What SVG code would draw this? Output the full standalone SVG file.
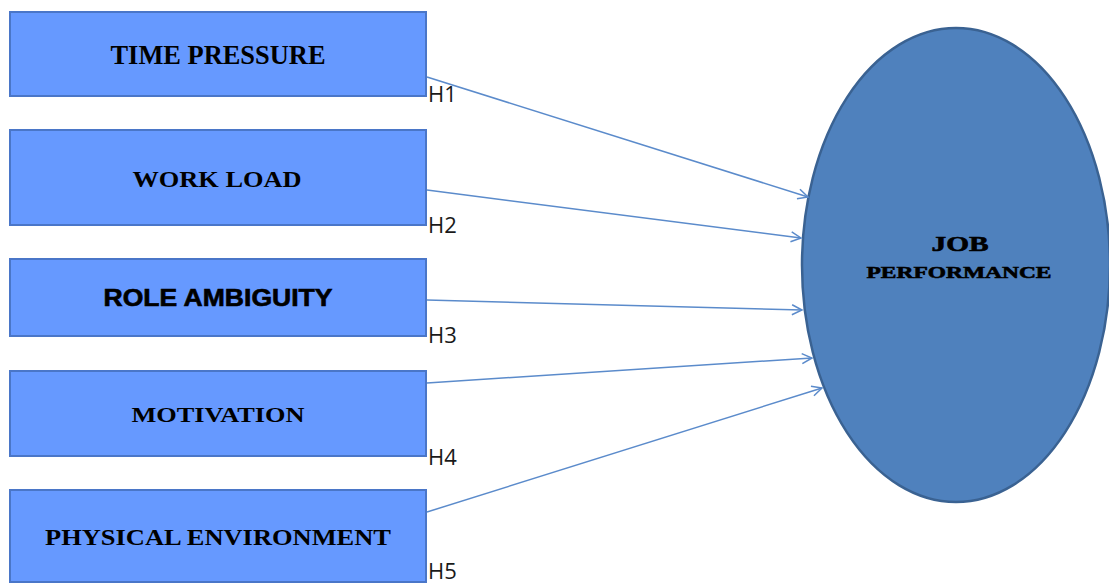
<svg xmlns="http://www.w3.org/2000/svg" width="1109" height="586" viewBox="0 0 1109 586">
<style>
.box{fill:#6699FF;stroke:#4A76C8;stroke-width:2}
.tr{font-family:"Liberation Serif",serif;font-weight:bold;fill:#000;text-anchor:middle}
.sa{font-family:"Liberation Sans",sans-serif;font-weight:bold;fill:#000;text-anchor:middle;stroke:#000;stroke-width:0.6}
.h{font-family:"Open Sans","Liberation Sans",sans-serif;font-size:22px;fill:#1a1a1a}
.con{stroke:#5B8BCB;stroke-width:1.5;fill:none;marker-end:url(#ah)}
</style>
<defs>
<marker id="ah" markerWidth="14" markerHeight="14" refX="12" refY="7" orient="auto" markerUnits="userSpaceOnUse">
<path d="M2,2 L12,7 L2,12" fill="none" stroke="#5B8BCB" stroke-width="1.5"/>
</marker>
</defs>
<rect width="1109" height="586" fill="#fff"/>
<g id="jp">
<ellipse cx="956" cy="265" rx="154" ry="237" fill="#4F81BD" stroke="#3A6292" stroke-width="2.5"/>
<text class="tr" x="960" y="251" font-size="21" textLength="57" lengthAdjust="spacingAndGlyphs" stroke="#000" stroke-width="0.6">JOB</text>
<text class="tr" x="959" y="278" font-size="17" textLength="185" lengthAdjust="spacingAndGlyphs" stroke="#000" stroke-width="0.6">PERFORMANCE</text>
</g>
<g id="tp">
<rect class="box" x="10" y="12" width="416" height="84"/>
<text class="tr" x="218" y="64" font-size="27" textLength="215" lengthAdjust="spacingAndGlyphs">TIME PRESSURE</text>
</g>
<g id="wl">
<rect class="box" x="10" y="130" width="416" height="95"/>
<text class="tr" x="217" y="187" font-size="24" textLength="169" lengthAdjust="spacingAndGlyphs">WORK LOAD</text>
</g>
<g id="ra">
<rect class="box" x="10" y="259" width="416" height="77"/>
<text class="sa" x="218" y="306" font-size="23" textLength="229" lengthAdjust="spacingAndGlyphs">ROLE AMBIGUITY</text>
</g>
<g id="mo">
<rect class="box" x="10" y="371" width="416" height="85"/>
<text class="tr" x="218" y="422" font-size="22" textLength="173" lengthAdjust="spacingAndGlyphs">MOTIVATION</text>
</g>
<g id="pe">
<rect class="box" x="10" y="490" width="416" height="92"/>
<text class="tr" x="218" y="545" font-size="23" textLength="346" lengthAdjust="spacingAndGlyphs">PHYSICAL ENVIRONMENT</text>
</g>
<g id="connectors">
<line class="con" x1="427" y1="77" x2="808" y2="197"/>
<line class="con" x1="427" y1="190" x2="801" y2="238"/>
<line class="con" x1="427" y1="300" x2="802" y2="310"/>
<line class="con" x1="427" y1="383" x2="812" y2="358"/>
<line class="con" x1="427" y1="512" x2="822" y2="388"/>
</g>
<g id="labels">
<text class="h" x="428" y="102">H1</text>
<text class="h" x="428" y="233">H2</text>
<text class="h" x="428" y="343">H3</text>
<text class="h" x="428" y="465">H4</text>
<text class="h" x="428" y="579">H5</text>
</g>
</svg>
